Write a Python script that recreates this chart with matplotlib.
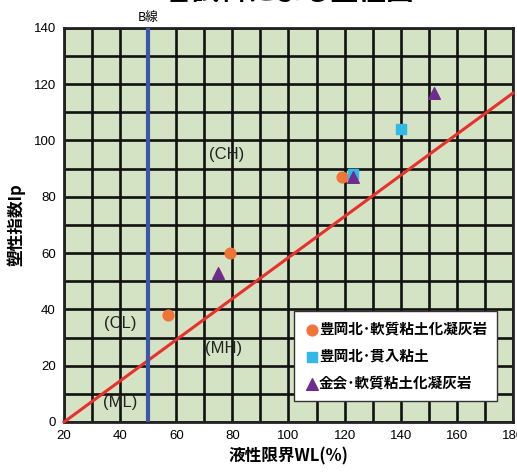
"""Plasticity chart (塑性図) with A-line, B-line and sample points."""

import matplotlib
matplotlib.use("Agg")
import matplotlib.pyplot as plt
import numpy as np

plt.rcParams["font.family"] = ["Noto Sans CJK JP", "DejaVu Sans"]

# sample data: liquid limit WL (%) and plasticity index Ip
TOYOOKA_TUFF_WL = [57, 79, 119]
TOYOOKA_TUFF_IP = [38, 60, 87]
TOYOOKA_CLAY_WL = [123, 140]
TOYOOKA_CLAY_IP = [88, 104]
KANAE_TUFF_WL = [75, 123, 152]
KANAE_TUFF_IP = [53, 87, 117]

A_LINE_WL = [20, 180]
B_LINE_WL = 50

ZONE_LABELS = ["(CH)", "(CL)", "(MH)", "(ML)"]
ZONE_WL = [78, 40, 77, 40]
ZONE_IP = [95, 35, 26, 7]

X_TICKS = list(range(20, 181, 20))
Y_TICKS = list(range(0, 141, 20))

BG = "#d3e3c3"
C_ORANGE = "#f07436"
C_CYAN = "#33b9e6"
C_PURPLE = "#6e2d8c"
C_RED = "#e8302c"
C_BLUE = "#3b58a8"

fig = plt.figure(figsize=(5.17, 4.72), dpi=100)
ax = fig.add_axes([0.124, 0.106, 0.868, 0.835])
ax.set_facecolor(BG)

ax.set_xlim(20, 180)
ax.set_ylim(0, 140)
ax.set_xticks(X_TICKS)
ax.set_xticks(np.arange(30, 180, 20), minor=True)
ax.set_yticks(Y_TICKS)
ax.set_yticks(np.arange(10, 140, 20), minor=True)
ax.grid(True, which="both", color="#111111", linewidth=1.9)
ax.set_axisbelow(True)
ax.tick_params(which="both", length=0)
ax.tick_params(labelsize=9.5, pad=6)
for lab in ax.get_xticklabels() + ax.get_yticklabels():
    lab.set_family(["Liberation Sans", "DejaVu Sans"])
for sp in ax.spines.values():
    sp.set_color("#222222")
    sp.set_linewidth(2)

# A-line: Ip = 0.73 (WL - 20)
a_wl = np.array(A_LINE_WL)
ax.plot(a_wl, 0.73 * (a_wl - 20), color=C_RED, linewidth=2.2, zorder=3,
        clip_on=False)
# B-line: WL = 50
ax.axvline(B_LINE_WL, color=C_BLUE, linewidth=3, zorder=3)
ax.text(B_LINE_WL, 141.5, "B線", ha="center", va="bottom", fontsize=9)

for lab, x, y in zip(ZONE_LABELS, ZONE_WL, ZONE_IP):
    ax.text(x, y, lab, ha="center", va="center", fontsize=12, color="#222222",
            family=["Liberation Sans", "DejaVu Sans"], zorder=4)

ax.scatter(TOYOOKA_TUFF_WL, TOYOOKA_TUFF_IP, marker="o", s=60, color=C_ORANGE,
           zorder=5, label="豊岡北･軟質粘土化凝灰岩")
ax.scatter(TOYOOKA_CLAY_WL, TOYOOKA_CLAY_IP, marker="s", s=55, color=C_CYAN,
           zorder=5, label="豊岡北･貫入粘土")
ax.scatter(KANAE_TUFF_WL, KANAE_TUFF_IP, marker="^", s=70, color=C_PURPLE,
           zorder=6, label="金会･軟質粘土化凝灰岩")

leg = ax.legend(loc="lower right", bbox_to_anchor=(0.982, 0.035),
                frameon=True, fancybox=False,
                handletextpad=0.0, borderpad=0.7, labelspacing=0.75,
                handlelength=1.0, prop={"weight": "bold", "size": 10.5})
leg.get_frame().set_edgecolor("#333333")
leg.get_frame().set_linewidth(1.0)
leg.get_frame().set_facecolor("white")
leg.get_frame().set_alpha(1)
leg.set_zorder(10)

ax.set_xlabel("液性限界WL(%)", fontsize=12, fontweight="bold", labelpad=4)
ax.set_ylabel("塑性指数Ip", fontsize=12, fontweight="bold", labelpad=6)

fig.text(0.56, 0.988, "各試料による塑性図", ha="center", va="bottom",
         fontsize=20, fontweight="bold")

fig.savefig("out.png", dpi=100, facecolor="white")
